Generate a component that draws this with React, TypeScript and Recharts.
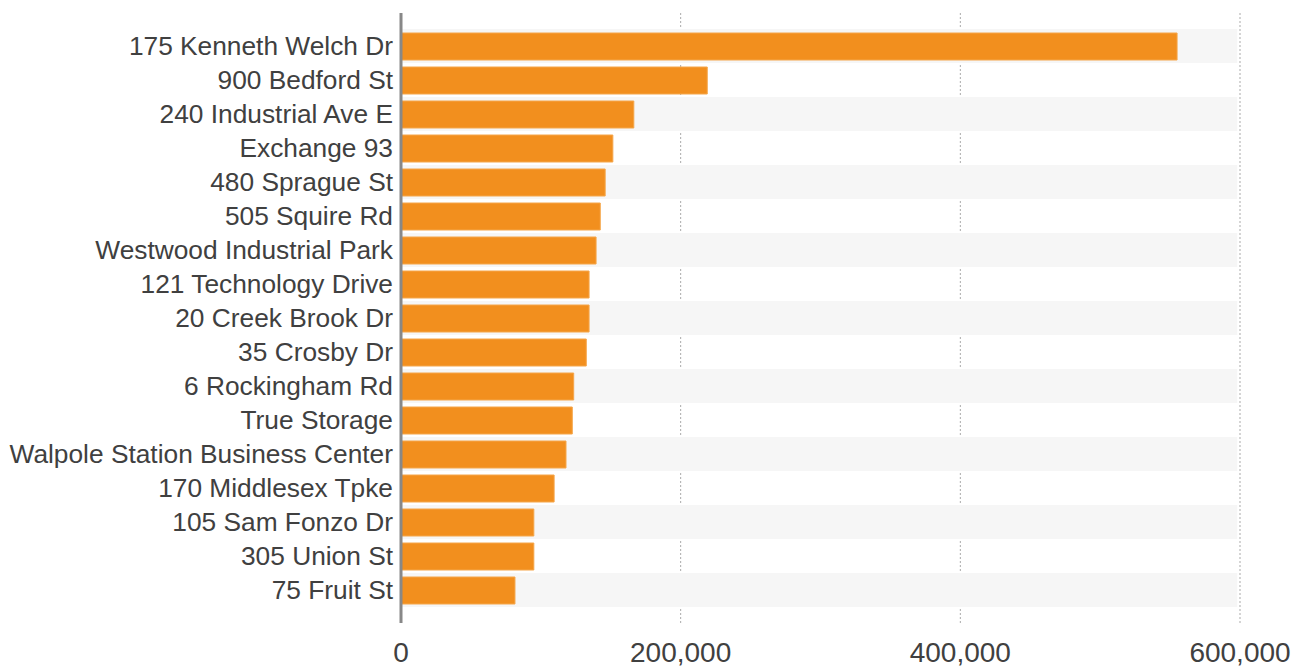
import React from 'react';
import {
  BarChart, Bar, XAxis, YAxis, CartesianGrid, ReferenceArea,
} from 'recharts';

const sites = [
  '175 Kenneth Welch Dr',
  '900 Bedford St',
  '240 Industrial Ave E',
  'Exchange 93',
  '480 Sprague St',
  '505 Squire Rd',
  'Westwood Industrial Park',
  '121 Technology Drive',
  '20 Creek Brook Dr',
  '35 Crosby Dr',
  '6 Rockingham Rd',
  'True Storage',
  'Walpole Station Business Center',
  '170 Middlesex Tpke',
  '105 Sam Fonzo Dr',
  '305 Union St',
  '75 Fruit St',
];

const areas = [
  555000, 219000, 166500, 151500, 146000, 142500, 139500, 134500, 134500,
  132500, 123500, 122500, 118000, 109500, 95000, 95000, 81500,
];

const xTicks = [0, 200000, 400000, 600000];

const data = sites.map((name, i) => ({ name, value: areas[i] }));

const FONT = '"Liberation Sans", Arial, sans-serif';

export default function App() {
  return (
    <div style={{ position: 'absolute', left: 0, top: 0, background: '#fff' }}>
      <BarChart
        width={1293}
        height={666}
        data={data}
        layout="vertical"
        margin={{ top: 13, right: 53, bottom: 0, left: 0 }}
        barCategoryGap={3}
      >
        {/* alternating row bands */}
        {sites.map((s, i) =>
          i % 2 === 0 ? (
            <ReferenceArea
              key={s}
              y1={s}
              y2={s}
              x1={0}
              x2={598000}
              fill="#f6f6f6"
              fillOpacity={1}
              stroke="none"
              ifOverflow="visible"
            />
          ) : null
        )}
        <CartesianGrid
          horizontal={false}
          stroke="#aaaaaa"
          strokeDasharray="2 2"
        />
        <XAxis
          type="number"
          domain={[0, 600000]}
          ticks={xTicks}
          axisLine={false}
          tickLine={false}
          tickSize={6}
          tickMargin={13}
          height={43}
          tickFormatter={(v: number) => v.toLocaleString('en-US')}
          tick={{ fill: '#404040', fontSize: 28, fontFamily: FONT }}
        />
        <YAxis
          type="category"
          dataKey="name"
          width={401}
          padding={{ top: 16, bottom: 16 }}
          axisLine={{ stroke: '#888888', strokeWidth: 3 }}
          tickLine={false}
          tickMargin={2}
          interval={0}
          tick={{ fill: '#404040', fontSize: 26.3, fontFamily: FONT }}
        />
        <Bar
          dataKey="value"
          fill="#f28f1e"
          stroke="#f5a64a"
          strokeWidth={1}
          barSize={27}
          isAnimationActive={false}
        />
      </BarChart>
    </div>
  );
}
